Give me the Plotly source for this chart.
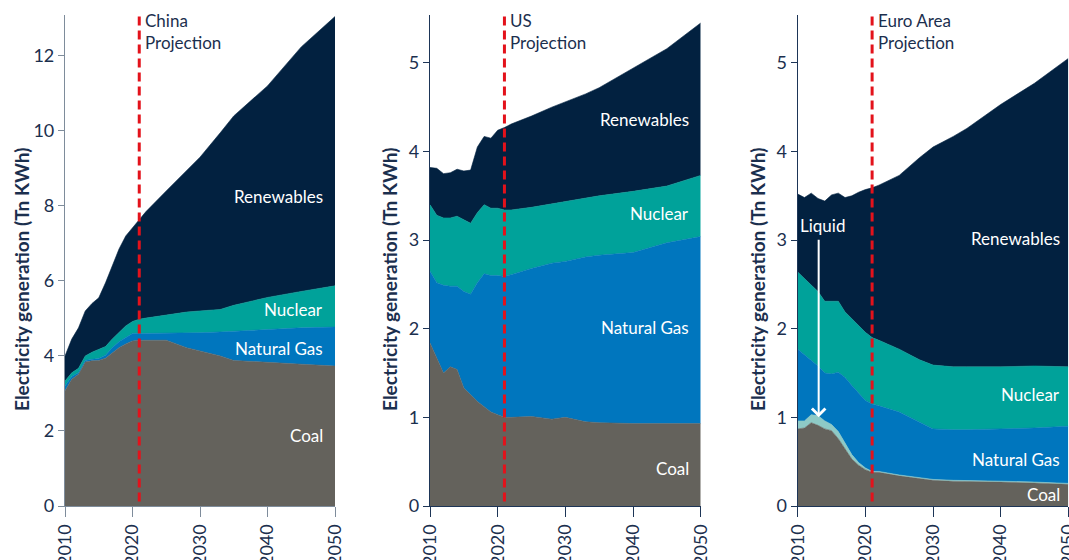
import plotly.graph_objects as go

years = [2010, 2011, 2012, 2013, 2014, 2015, 2016, 2017, 2018, 2019, 2020, 2021, 2022,
         2025, 2028, 2030, 2033, 2035, 2040, 2045, 2050]

# China (Tn KWh)
cn_coal = [3.07, 3.38, 3.51, 3.84, 3.87, 3.88, 3.94, 4.08, 4.22, 4.32, 4.40, 4.42, 4.42,
           4.42, 4.22, 4.13, 4.00, 3.88, 3.84, 3.78, 3.73]
cn_gas = [0.13, 0.07, 0.04, 0.04, 0.04, 0.05, 0.08, 0.14, 0.16, 0.18, 0.20, 0.18, 0.18,
          0.18, 0.39, 0.49, 0.64, 0.78, 0.87, 0.97, 1.04]
cn_nuc = [0.13, 0.10, 0.12, 0.12, 0.19, 0.25, 0.23, 0.23, 0.24, 0.30, 0.32, 0.38, 0.41,
          0.50, 0.56, 0.58, 0.60, 0.69, 0.85, 0.97, 1.10]
cn_ren = [0.67, 0.90, 1.08, 1.20, 1.30, 1.37, 1.70, 1.95, 2.23, 2.40, 2.50, 2.67, 2.84,
          3.30, 3.78, 4.10, 4.71, 5.05, 5.64, 6.52, 7.18]

# US
us_coal = [1.84, 1.67, 1.50, 1.57, 1.54, 1.33, 1.25, 1.18, 1.12, 1.06, 1.03, 1.00, 1.00,
           1.01, 0.98, 1.00, 0.95, 0.94, 0.93, 0.93, 0.93]
us_gas = [0.81, 0.85, 0.99, 0.91, 0.94, 1.09, 1.14, 1.34, 1.50, 1.54, 1.57, 1.59, 1.61,
          1.67, 1.76, 1.76, 1.86, 1.89, 1.93, 2.04, 2.11]
us_nuc = [0.75, 0.76, 0.76, 0.77, 0.79, 0.81, 0.80, 0.79, 0.78, 0.76, 0.76, 0.75, 0.73,
          0.69, 0.67, 0.68, 0.67, 0.67, 0.69, 0.64, 0.69]
us_ren = [0.42, 0.53, 0.50, 0.51, 0.53, 0.55, 0.60, 0.74, 0.77, 0.79, 0.88, 0.93, 0.97,
          1.03, 1.09, 1.12, 1.17, 1.22, 1.39, 1.55, 1.72]

# Euro Area
ea_coal = [0.87, 0.88, 0.94, 0.91, 0.87, 0.85, 0.76, 0.64, 0.53, 0.46, 0.41, 0.38, 0.38,
           0.34, 0.31, 0.29, 0.28, 0.275, 0.27, 0.26, 0.245]
ea_liquid = [0.09, 0.08, 0.09, 0.11, 0.09, 0.07, 0.08, 0.07, 0.05, 0.03, 0.02, 0.01, 0.01,
             0.01, 0.01, 0.01, 0.01, 0.01, 0.01, 0.01, 0.01]
ea_gas = [0.81, 0.75, 0.61, 0.56, 0.54, 0.57, 0.67, 0.74, 0.78, 0.78, 0.76, 0.76, 0.74,
          0.71, 0.63, 0.57, 0.57, 0.575, 0.59, 0.61, 0.645]
ea_nuc = [0.87, 0.86, 0.86, 0.84, 0.81, 0.82, 0.80, 0.74, 0.75, 0.76, 0.77, 0.75, 0.74,
          0.71, 0.70, 0.72, 0.71, 0.71, 0.70, 0.70, 0.67]
ea_ren = [0.88, 0.91, 1.03, 1.05, 1.13, 1.20, 1.22, 1.29, 1.39, 1.51, 1.61, 1.69, 1.75,
          1.96, 2.28, 2.46, 2.60, 2.69, 2.96, 3.19, 3.48]

x_ticks = [2010, 2020, 2030, 2040, 2050]
projection_year = 2021
y_title = "Electricity generation (Tn KWh)"

C_COAL = "#64625C"
C_LIQ = "#8ECAC6"
C_GAS = "#0076BE"
C_NUC = "#00A29A"
C_REN = "#022140"
C_RED = "#E3121B"
C_TXT = "#1B2F4E"
FONT = "Lato"

W, H = 1069, 560
TOP, BOT = 15, 506  # px of plot area


def fx(px):
    return px / W


panels = [
    dict(name="China", series=[("Coal", cn_coal, C_COAL), ("Natural Gas", cn_gas, C_GAS),
                               ("Nuclear", cn_nuc, C_NUC), ("Renewables", cn_ren, C_REN)],
         dom=[fx(65), fx(335)], yr=[0, 13.09], dt=2, axc="#7E8C9B",
         labels=[("Renewables", 8.26), ("Nuclear", 5.25), ("Natural Gas", 4.19), ("Coal", 1.89)],
         title="China<br>Projection"),
    dict(name="US", series=[("Coal", us_coal, C_COAL), ("Natural Gas", us_gas, C_GAS),
                            ("Nuclear", us_nuc, C_NUC), ("Renewables", us_ren, C_REN)],
         dom=[fx(430), fx(700.7)], yr=[0, 5.54], dt=1, axc="#1D3557",
         labels=[("Renewables", 4.36), ("Nuclear", 3.30), ("Natural Gas", 2.01), ("Coal", 0.42)],
         title="US<br>Projection"),
    dict(name="Euro", series=[("Coal", ea_coal, C_COAL), ("Liquid", ea_liquid, C_LIQ),
                              ("Natural Gas", ea_gas, C_GAS), ("Nuclear", ea_nuc, C_NUC),
                              ("Renewables", ea_ren, C_REN)],
         dom=[fx(797.7), fx(1068.3)], yr=[0, 5.54], dt=1, axc="#1D3557",
         labels=[("Renewables", 3.02), ("Nuclear", 1.26), ("Natural Gas", 0.53), ("Coal", 0.13)],
         title="Euro Area<br>Projection"),
]

fig = go.Figure()
shapes = []
annotations = []
layout_axes = {}
title_x = [21, 389, 757]

for i, p in enumerate(panels):
    suffix = "" if i == 0 else str(i + 1)
    xa, ya = "x" + suffix, "y" + suffix
    for nm, vals, col in p["series"]:
        fig.add_trace(go.Scatter(
            x=years, y=vals, name=nm, mode="lines", stackgroup=p["name"],
            line=dict(width=0.6, color=col), fillcolor=col, xaxis=xa, yaxis=ya,
            showlegend=False, hoverinfo="skip"))
    layout_axes["xaxis" + suffix] = dict(
        domain=p["dom"], range=[2010, 2050], anchor=ya, tickvals=x_ticks,
        ticktext=[str(t) for t in x_ticks], tickangle=-90, showgrid=False, zeroline=False,
        showline=True, linecolor=p["axc"], linewidth=1.2, ticks="outside", ticklen=10,
        tickcolor=p["axc"], tickfont=dict(size=18, color=C_TXT, family=FONT), automargin=False,
        ticklabeloverflow="allow")
    layout_axes["yaxis" + suffix] = dict(
        domain=[0, 1], range=p["yr"], anchor=xa, dtick=p["dt"], tick0=0, showgrid=False,
        zeroline=False, showline=True, linecolor=p["axc"], linewidth=1.2, ticks="outside",
        ticklen=6, tickcolor=p["axc"], tickfont=dict(size=18, color=C_TXT, family=FONT),
        automargin=False)
    shapes.append(dict(type="line", xref=xa, yref=ya + " domain", x0=projection_year,
                       x1=projection_year, y0=0.009, y1=1.0,
                       line=dict(color=C_RED, width=3, dash="9px,5px")))
    annotations.append(dict(x=projection_year, y=1, xref=xa, yref=ya + " domain",
                            text=p["title"], showarrow=False, xanchor="left", yanchor="top",
                            align="left", xshift=4, yshift=7,
                            font=dict(size=17, color=C_TXT, family=FONT)))
    xs = -10 if i < 2 else -6
    for txt, yv in p["labels"]:
        annotations.append(dict(x=2050, y=yv, xref=xa, yref=ya, text=txt, showarrow=False,
                                xanchor="right", yanchor="middle", xshift=xs,
                                font=dict(size=17, color="white", family=FONT)))
    annotations.append(dict(x=fx(title_x[i]), y=(BOT - 280) / (BOT - TOP), xref="paper",
                            yref="paper", text="<b>" + y_title + "</b>", textangle=-90,
                            showarrow=False, xanchor="center", yanchor="middle",
                            font=dict(size=19, color=C_TXT, family=FONT)))

# Liquid label and arrow (Euro Area)
annotations.append(dict(x=2013.7, y=3.17, xref="x3", yref="y3", text="Liquid",
                        showarrow=False, xanchor="center", yanchor="middle",
                        font=dict(size=17, color="white", family=FONT)))
annotations.append(dict(x=2013.1, y=1.0, xref="x3", yref="y3", text="", showarrow=True,
                        ax=0, ay=-179, arrowhead=4, arrowsize=1.3, arrowwidth=2,
                        arrowcolor="white"))

fig.update_layout(
    template="none", width=W, height=H,
    margin=dict(l=0, r=0, t=TOP, b=H - BOT),
    paper_bgcolor="white", plot_bgcolor="white",
    font=dict(family=FONT, color=C_TXT),
    shapes=shapes, annotations=annotations, showlegend=False,
    **layout_axes)

fig.write_html("out.html", config={"displayModeBar": False},
               post_script="document.body.style.margin='0';"
                           "document.body.style.overflow='hidden';")
